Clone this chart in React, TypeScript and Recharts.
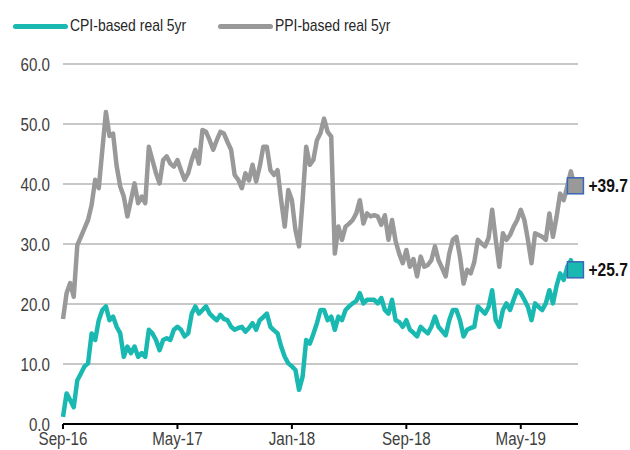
import React from 'react';
import { LineChart, Line, XAxis, YAxis, CartesianGrid } from 'recharts';

// weekly readings, Sep-16 .. Sep-19 (4 points per month)
const cpi = [
    1.2, 5.1, 4.0, 2.8, 7.3, 8.4, 9.6, 10.1, 15.1, 14.0, 17.3, 19.0, 19.6, 17.3, 17.9, 16.2,
    15.1, 11.2, 12.9, 11.8, 12.9, 11.2, 11.8, 11.2, 15.7, 15.1, 14.0, 12.3, 14.0, 14.3, 14.0, 15.7,
    16.2, 15.7, 14.6, 15.1, 18.4, 19.6, 18.4, 19.0, 19.6, 18.4, 17.8, 17.3, 18.2, 17.5, 17.3, 16.2,
    15.7, 16.0, 16.2, 15.4, 16.0, 16.8, 15.7, 17.3, 17.8, 18.4, 16.2, 15.6, 15.1, 12.9, 11.2, 10.1,
    9.6, 9.0, 5.7, 7.9, 14.0, 13.4, 15.0, 16.8, 19.0, 19.0, 17.3, 17.9, 15.7, 17.9, 17.3, 19.0,
    19.6, 20.1, 20.5, 21.8, 20.1, 20.7, 20.7, 20.7, 20.1, 21.0, 19.0, 18.4, 20.7, 17.3, 17.0, 16.2,
    17.3, 15.7, 15.2, 14.6, 16.2, 15.6, 15.1, 16.2, 17.9, 16.2, 15.5, 14.8, 17.3, 19.0, 19.0, 17.3,
    14.6, 15.7, 16.0, 16.2, 19.6, 19.0, 18.4, 19.5, 22.3, 17.3, 16.2, 19.0, 20.1, 19.0, 20.7, 22.3,
    21.8, 20.7, 19.5, 17.3, 20.1, 19.5, 19.0, 20.1, 22.3, 20.1, 23.0, 25.1, 24.0, 26.2, 27.3, 25.7,
];
const ppi = [
    17.5, 21.8, 23.5, 21.2, 29.8, 31.2, 32.6, 34.0, 36.5, 40.7, 39.3, 45.7, 52.0, 48.0, 48.4, 43.0,
    39.6, 37.9, 34.6, 37.3, 40.1, 36.8, 37.9, 36.8, 46.2, 44.0, 41.8, 40.1, 44.0, 44.6, 43.4, 42.9,
    44.0, 42.3, 40.7, 41.8, 44.0, 45.7, 43.4, 49.0, 48.7, 47.3, 45.7, 47.3, 48.7, 48.4, 47.0, 45.7,
    41.5, 40.7, 39.3, 41.8, 40.6, 43.2, 40.4, 42.9, 46.2, 46.2, 42.3, 41.5, 42.3, 37.3, 32.9, 39.0,
    37.3, 32.3, 29.6, 37.3, 46.2, 43.2, 44.0, 47.3, 48.5, 50.9, 48.7, 47.9, 28.4, 32.9, 30.7, 32.9,
    33.4, 34.0, 35.1, 37.3, 33.4, 35.1, 34.6, 34.8, 34.6, 33.2, 34.8, 30.7, 34.0, 30.5, 28.4, 26.8,
    29.0, 26.2, 27.5, 24.6, 27.9, 26.2, 26.5, 27.3, 29.6, 27.3, 26.0, 24.6, 28.4, 30.7, 31.2, 27.9,
    23.4, 25.7, 25.1, 27.0, 30.7, 30.1, 29.6, 31.0, 35.7, 30.7, 26.2, 31.8, 30.7, 31.5, 32.9, 34.0,
    35.7, 34.0, 30.7, 26.8, 31.8, 31.5, 31.2, 30.7, 35.1, 31.2, 34.5, 38.4, 37.3, 39.6, 42.1, 39.7,
];
const xTickPos = [0, 32, 64, 96, 128];
const xTickLabels = ['Sep-16', 'May-17', 'Jan-18', 'Sep-18', 'May-19'];
const yTicks = [0, 10, 20, 30, 40, 50, 60];

const TEAL = '#19B9B1';
const GREY = '#999999';
const FONT = "'Liberation Sans', Arial, sans-serif";
const SQUEEZE = 0.82; // the original uses a condensed face

const rows = cpi.map((v, i) => ({ i, cpi: v, ppi: ppi[i] }));
const last = rows.length - 1;

const XTick = ({ x, y, payload }: any) => (
    <text transform={`translate(${x},${y}) scale(${SQUEEZE},1)`} textAnchor="middle" dy="0.71em"
        fontFamily={FONT} fontSize={18.5} fill="#404040">
        {xTickLabels[xTickPos.indexOf(payload.value)] ?? ''}
    </text>
);

const YTick = ({ x, y, payload }: any) => (
    <text transform={`translate(${x},${y}) scale(${SQUEEZE},1)`} textAnchor="end" dy="0.355em"
        fontFamily={FONT} fontSize={18.5} fill="#404040">
        {payload.value.toFixed(1)}
    </text>
);

const endDot = (fill: string, key: 'cpi' | 'ppi') => (p: any) => {
    if (p.index !== last) return <g key={`${key}-${p.index}`} />;
    return (
        <g key={`${key}-end`}>
            <rect x={p.cx - 7} y={p.cy - 8} width={16} height={16} fill={fill} stroke="#3A66B5" strokeWidth={1.5} />
            <text transform={`translate(${p.cx + 14},${p.cy + 6.5}) scale(${SQUEEZE},1)`}
                fontFamily={FONT} fontSize={19} fontWeight="bold" fill="#111">
                {'+' + p.value.toFixed(1)}
            </text>
        </g>
    );
};

function LegendRow() {
    const item = (color: string, label: string, left: number) => (
        <div style={{ position: 'absolute', left, top: 15, display: 'flex', alignItems: 'center', whiteSpace: 'nowrap' }}>
            <div style={{ width: 55, height: 5, borderRadius: 3, background: color, marginRight: 2 }} />
            <span style={{
                display: 'inline-block', fontFamily: FONT, fontSize: 17, color: '#262626', lineHeight: '22px',
                transform: `scaleX(${SQUEEZE})`, transformOrigin: 'left center',
            }}>{label}</span>
        </div>
    );
    return (
        <>
            {item(TEAL, 'CPI-based real 5yr', 13)}
            {item(GREY, 'PPI-based real 5yr', 218)}
        </>
    );
}

export default function App() {
    return (
        <div style={{ position: 'absolute', left: 0, top: 0, width: 630, height: 450, background: '#fff' }}>
            <LegendRow />
            <LineChart width={630} height={450} data={rows} margin={{ top: 64, right: 52, left: 13, bottom: 6 }}>
                <CartesianGrid vertical={false} stroke="#C8C8C8" strokeWidth={2} />
                <XAxis
                    dataKey="i" type="number" domain={[0, 144]} ticks={xTickPos}
                    height={20} tickSize={5} tickMargin={3}
                    axisLine={{ stroke: '#000', strokeWidth: 2 }} tickLine={{ stroke: '#000', strokeWidth: 2 }}
                    tick={<XTick />}
                />
                <YAxis
                    domain={[0, 60]} ticks={yTicks} width={50} axisLine={false} tickLine={false} tickMargin={7}
                    tick={<YTick />}
                />
                <Line dataKey="ppi" stroke={GREY} strokeWidth={4.5} isAnimationActive={false} dot={endDot(GREY, 'ppi')} activeDot={false} strokeLinejoin="round" />
                <Line dataKey="cpi" stroke={TEAL} strokeWidth={4.5} isAnimationActive={false} dot={endDot(TEAL, 'cpi')} activeDot={false} strokeLinejoin="round" />
            </LineChart>
        </div>
    );
}
